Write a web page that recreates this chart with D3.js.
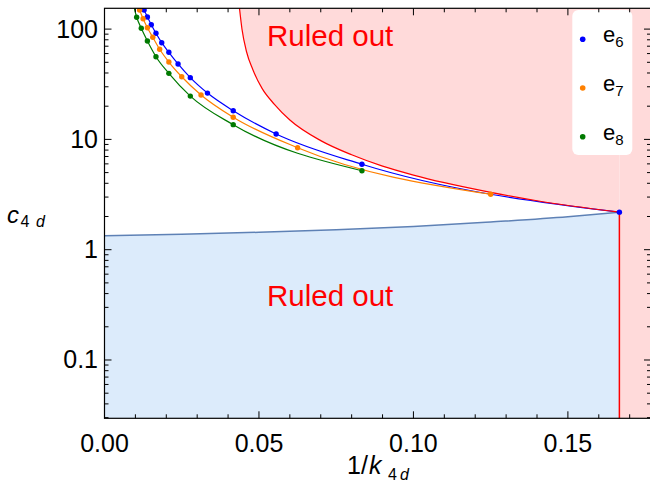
<!DOCTYPE html>
<html>
<head>
<meta charset="utf-8">
<script src="https://cdn.jsdelivr.net/npm/d3@7"></script>
<style>
  body { margin: 0; background: #fff; }
  text { font-family: "Liberation Sans", Arial, sans-serif; }
</style>
</head>
<body>
<svg id="chart"></svg>
<script>
const width = 650;
const height = 496;

// e6 series, k = 6n
const e6K = [6, 12, 18, 24, 30, 36, 42, 48, 54, 60, 66, 72, 78];
const e6C = [2.19, 5.95, 11.2, 18.2, 26.3, 36.3, 48.3, 61.6, 75.3, 91.6, 109.6, 128.8, 149];
// e7 series, k = 8n
const e7K = [8, 16, 24, 32, 40, 48, 56, 64, 72, 80, 88];
const e7C = [3.18, 8.41, 15.9, 25.3, 37.0, 50.3, 65.6, 84.3, 103, 124.3, 149];
// e8 series, k = 12n
const e8K = [12, 24, 36, 48, 60, 72, 84, 96, 108];
const e8C = [5.2, 13.6, 24.7, 39.7, 56.2, 78, 101.7, 128, 172];

// upper (red) boundary
const upperX = [0.0437, 0.0445, 0.046, 0.048, 0.051, 0.055, 0.06, 0.07, 0.08, 0.09, 0.10, 0.11, 0.125, 0.14, 1 / 6];
const upperC = [154, 100, 62, 43, 29, 20.8, 15.0, 9.75, 7.25, 5.72, 4.75, 4.05, 3.31, 2.78, 2.19];

// lower (blue) boundary
const lowerX = [0, 0.025, 0.05, 0.075, 0.1, 0.125, 0.15, 1 / 6];
const lowerC = [1.339, 1.382, 1.438, 1.515, 1.620, 1.783, 1.988, 2.19];

const xTicks = [0, 0.05, 0.10, 0.15];
const yTicks = [0.1, 1, 10, 100];

const series = [
  { name: "6", k: e6K, c: e6C, color: "#0000ff" },
  { name: "7", k: e7K, c: e7C, color: "#ff8000" },
  { name: "8", k: e8K, c: e8C, color: "#007a00" }
];

const svg = d3.select("#chart")
  .attr("width", width)
  .attr("height", height);

const pLeft = 104.5, pRight = 651, pTop = 8.3, pBottom = 418.3;

const x = d3.scaleLinear().domain([0, 0.1769]).range([pLeft, pRight]);
const y = d3.scaleLog().domain([0.0296, 154.4]).range([pBottom, pTop]);

svg.append("clipPath").attr("id", "plot")
  .append("rect")
  .attr("x", pLeft).attr("y", pTop)
  .attr("width", pRight - pLeft).attr("height", pBottom - pTop);

const plot = svg.append("g").attr("clip-path", "url(#plot)");

const xMax = x.domain()[1];
const yMin = y.domain()[0], yMax = y.domain()[1];

// lower ruled-out region
const lower = lowerX.map((v, i) => [v, lowerC[i]]);
plot.append("path")
  .datum(lower)
  .attr("fill", "#dcebfb")
  .attr("d", d3.area().x(d => x(d[0])).y0(y(yMin)).y1(d => y(d[1])).curve(d3.curveMonotoneX));

// upper ruled-out region
const upper = upperX.map((v, i) => [v, upperC[i]]);
plot.append("path")
  .datum(upper)
  .attr("fill", "#ffdada")
  .attr("d", d3.area().x(d => x(d[0])).y0(y(yMax)).y1(d => y(d[1])).curve(d3.curveMonotoneX));
plot.append("rect")
  .attr("x", x(1 / 6)).attr("y", y(yMax))
  .attr("width", x(xMax) - x(1 / 6)).attr("height", y(yMin) - y(yMax))
  .attr("fill", "#ffdada");

// lower boundary line
plot.append("path")
  .datum(lower)
  .attr("fill", "none")
  .attr("stroke", "#5e81b5")
  .attr("stroke-width", 1.5)
  .attr("d", d3.line().x(d => x(d[0])).y(d => y(d[1])).curve(d3.curveMonotoneX));

// series lines
const line = d3.line().x(d => x(1 / d[0])).y(d => y(d[1])).curve(d3.curveMonotoneX);
series.forEach(s => {
  const pts = s.k.map((k, i) => [k, s.c[i]]).sort((a, b) => b[0] - a[0]);
  plot.append("path")
    .datum(pts)
    .attr("fill", "none")
    .attr("stroke", s.color)
    .attr("stroke-width", 1.2)
    .attr("d", line);
});

// red boundary
plot.append("path")
  .datum(upper)
  .attr("fill", "none")
  .attr("stroke", "#ff0000")
  .attr("stroke-width", 1.2)
  .attr("d", d3.line().x(d => x(d[0])).y(d => y(d[1])).curve(d3.curveMonotoneX));
plot.append("line")
  .attr("x1", x(1 / 6)).attr("x2", x(1 / 6))
  .attr("y1", y(upperC[upperC.length - 1])).attr("y2", y(yMin))
  .attr("stroke", "#ff0000")
  .attr("stroke-width", 1.5);

// dots
series.forEach(s => {
  plot.selectAll(null)
    .data(s.k.map((k, i) => [k, s.c[i]]))
    .enter()
    .append("circle")
    .attr("cx", d => x(1 / d[0]))
    .attr("cy", d => y(d[1]))
    .attr("r", 2.7)
    .attr("fill", s.color);
});

// ruled out labels
svg.append("text")
  .attr("x", 267).attr("y", 46)
  .attr("font-size", 29.5)
  .attr("fill", "#ff0000")
  .text("Ruled out");
svg.append("text")
  .attr("x", 267).attr("y", 306)
  .attr("font-size", 29.5)
  .attr("fill", "#ff0000")
  .text("Ruled out");

// legend
const legend = svg.append("g");
legend.append("rect")
  .attr("x", 572.3).attr("y", 10)
  .attr("width", 60).attr("height", 145)
  .attr("rx", 6)
  .attr("fill", "#fff");
series.forEach((s, i) => {
  const ly = 39.3 + i * 48.7;
  legend.append("circle")
    .attr("cx", 582.7).attr("cy", ly).attr("r", 2.8)
    .attr("fill", s.color);
  const t = legend.append("text")
    .attr("x", 603).attr("y", ly + 3)
    .attr("font-size", 22)
    .attr("fill", "#000");
  t.append("tspan").text("e");
  t.append("tspan").attr("font-size", 15).attr("dy", 5).text(s.name);
});

// ticks
const frame = svg.append("g");
const minorX = d3.range(0, 18).map(i => i / 100);
minorX.forEach(v => {
  const isMajor = xTicks.some(m => Math.abs(m - v) < 1e-9);
  const len = isMajor ? 7 : 4;
  frame.append("line").attr("x1", x(v)).attr("x2", x(v)).attr("y1", pBottom).attr("y2", pBottom - len)
    .attr("stroke", "#000").attr("stroke-width", 1);
  frame.append("line").attr("x1", x(v)).attr("x2", x(v)).attr("y1", pTop).attr("y2", pTop + len)
    .attr("stroke", "#000").attr("stroke-width", 1);
});
const minorY = [];
[0.01, 0.1, 1, 10, 100].forEach(dec => {
  for (let m = 1; m <= 9; m++) {
    const v = dec * m;
    if (v >= yMin && v <= yMax) minorY.push([v, m === 1]);
  }
});
minorY.forEach(([v, isMajor]) => {
  const len = isMajor ? 7 : 4;
  frame.append("line").attr("x1", pLeft).attr("x2", pLeft + len).attr("y1", y(v)).attr("y2", y(v))
    .attr("stroke", "#000").attr("stroke-width", 1);
  frame.append("line").attr("x1", pRight).attr("x2", pRight - len).attr("y1", y(v)).attr("y2", y(v))
    .attr("stroke", "#000").attr("stroke-width", 1);
});

frame.append("rect")
  .attr("x", pLeft).attr("y", pTop)
  .attr("width", pRight - pLeft).attr("height", pBottom - pTop)
  .attr("fill", "none")
  .attr("stroke", "#000")
  .attr("stroke-width", 1.2);

// tick labels
frame.selectAll(".xl")
  .data(xTicks)
  .enter()
  .append("text")
  .attr("x", d => x(d))
  .attr("y", 452)
  .attr("text-anchor", "middle")
  .attr("font-size", 25)
  .text(d => d3.format(".2f")(d));

frame.selectAll(".yl")
  .data(yTicks)
  .enter()
  .append("text")
  .attr("x", 98)
  .attr("y", d => y(d) + 8.5)
  .attr("text-anchor", "end")
  .attr("font-size", 25)
  .text(d => d);

// axis labels
const yl = svg.append("text").attr("y", 223).attr("font-size", 24);
yl.append("tspan").attr("x", 7).attr("font-style", "italic").text("c");
yl.append("tspan").attr("x", 20.5).attr("dy", 4).attr("font-size", 16).text("4");
yl.append("tspan").attr("x", 36).attr("font-size", 16).attr("font-style", "italic").text("d");

const xl = svg.append("text").attr("y", 474).attr("font-size", 25);
xl.append("tspan").attr("x", 347).text("1");
xl.append("tspan").attr("x", 361).text("/");
xl.append("tspan").attr("x", 369).attr("font-style", "italic").text("k");
xl.append("tspan").attr("x", 388).attr("dy", 6).attr("font-size", 16).text("4");
xl.append("tspan").attr("x", 400).attr("font-size", 16).attr("font-style", "italic").text("d");
</script>
</body>
</html>
